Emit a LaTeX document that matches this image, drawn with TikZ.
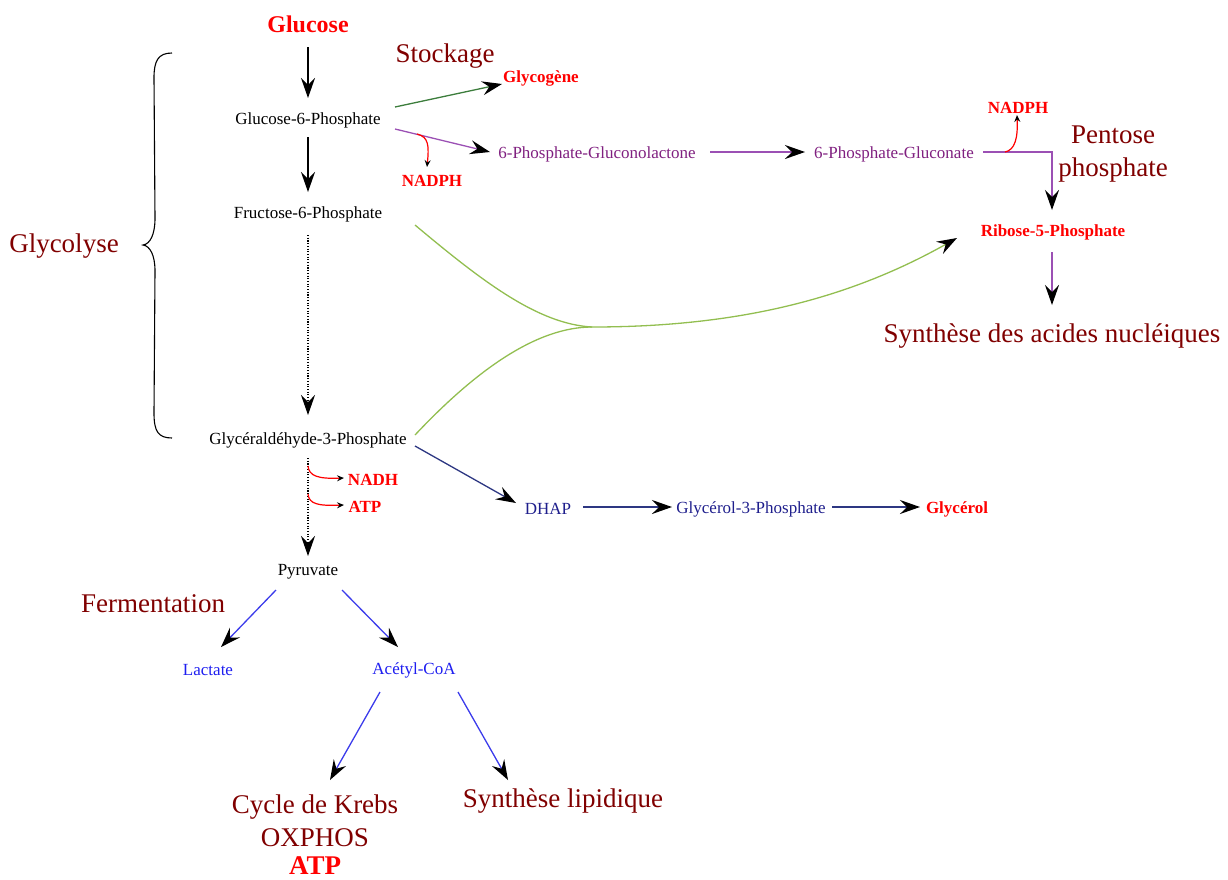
\documentclass[tikz,border=0pt]{standalone}
\usepackage{fontspec}
\setmainfont{Liberation Serif}
\usetikzlibrary{arrows.meta,calc}
\definecolor{mymaroon}{RGB}{128,0,0}
\definecolor{myred}{RGB}{255,0,0}
\definecolor{mypurple}{RGB}{128,32,128}
\definecolor{mypurpleline}{RGB}{155,80,180}
\definecolor{mynavy}{RGB}{30,30,140}
\definecolor{mynavyline}{RGB}{45,55,130}
\definecolor{myblue}{RGB}{30,30,240}
\definecolor{mybluel}{RGB}{60,60,235}
\definecolor{mydgreen}{RGB}{60,125,60}
\definecolor{mylgreen}{RGB}{146,190,80}
\begin{document}
\begin{tikzpicture}[x=1pt,y=-1pt,
  every node/.style={inner sep=0pt,outer sep=0pt},
  smtxt/.style={font=\fontsize{17}{20}\selectfont,yshift=-2pt},
  smbold/.style={font=\fontsize{17}{20}\selectfont\bfseries,text=myred,yshift=-2pt},
  bigtxt/.style={font=\fontsize{27}{33}\selectfont,text=mymaroon,yshift=-3pt},
  bigtip/.style={-{Stealth[length=20pt,width=14pt,inset=7pt,color=black]}},
  smalltip/.style={-{Stealth[length=7pt,width=6pt,inset=2.5pt,color=black]}},
  blkarrow/.style={bigtip,line width=1.4pt,black},
  dotarrow/.style={bigtip,line width=1.1pt,black,dash pattern=on 1.1pt off 1.6pt},
  redcurve/.style={smalltip,line width=1.2pt,myred},
  purparrow/.style={bigtip,line width=1.3pt,mypurpleline},
  bluearrow/.style={bigtip,line width=1.3pt,mybluel},
  navyarrow/.style={bigtip,line width=1.3pt,mynavyline},
  dgreenarrow/.style={bigtip,line width=1.3pt,mydgreen},
  lgreen/.style={line width=1.3pt,mylgreen},
  brace/.style={line width=1.1pt,black}
]
\useasboundingbox (0,0) rectangle (1228,879);

% main chain
\node[font=\fontsize{24}{28}\selectfont\bfseries,text=myred,yshift=-2pt] (Glc) at (308,22) {Glucose};
\node[smtxt] (G6P) at (308,118) {Glucose-6-Phosphate};
\node[smtxt] (F6P) at (308,212) {Fructose-6-Phosphate};
\node[smtxt] (G3P) at (308,438) {Glycéraldéhyde-3-Phosphate};
\node[smtxt] (Pyr) at (308,570) {Pyruvate};
\node[smtxt,text=myblue] (Lac) at (208,668) {Lactate};
\node[smtxt,text=myblue] (Acc) at (414,668) {Acétyl-CoA};
\node[bigtxt] (Krebs) at (315,804) {Cycle de Krebs};
\node[bigtxt] (Oxphos) at (315,835) {OXPHOS};
\node[font=\fontsize{27}{33}\selectfont\bfseries,text=myred] (ATPk) at (315,866) {ATP};
\node[bigtxt] (Lip) at (563,798) {Synthèse lipidique};
\node[bigtxt] (Ferm) at (153,601) {Fermentation};
\node[bigtxt] (Glyco) at (64,243) {Glycolyse};

% storage and pentose phosphate
\node[bigtxt] (Stock) at (445,53) {Stockage};
\node[smbold] (Glgn) at (541,76) {Glycogène};
\node[smbold] (NADPHa) at (432,179) {NADPH};
\node[smtxt,text=mypurple] (PGL) at (597,152) {6-Phosphate-Gluconolactone};
\node[smtxt,text=mypurple] (PG) at (894,152) {6-Phosphate-Gluconate};
\node[smbold] (NADPHb) at (1018,106) {NADPH};
\node[bigtxt,align=center] (Pent) at (1113,151) {Pentose\\phosphate};
\node[smbold] (R5P) at (1053,230) {Ribose-5-Phosphate};
\node[bigtxt] (SAN) at (1052,333) {Synthèse des acides nucléiques};

% glycerol branch
\node[smbold] (NADH) at (373,478) {NADH};
\node[smbold] (ATPa) at (365,505) {ATP};
\node[smtxt,text=mynavy] (DHAP) at (548,507) {DHAP};
\node[smtxt,text=mynavy] (G3Pol) at (751,507) {Glycérol-3-Phosphate};
\node[smbold] (Glyc) at (957,507) {Glycérol};

\coordinate (J) at (592,327);

% brace
\draw[brace] ($(Glyco)+(108,-193)$) .. controls ($(Glyco)+(94,-193)$) and ($(Glyco)+(90,-185)$) .. ($(Glyco)+(90,-168)$)
  -- ($(Glyco)+(91,-28)$) .. controls ($(Glyco)+(91,-11)$) and ($(Glyco)+(86,-2)$) .. ($(Glyco)+(79,-1)$)
  .. controls ($(Glyco)+(86,0)$) and ($(Glyco)+(91,9)$) .. ($(Glyco)+(91,25)$)
  -- ($(Glyco)+(90,167)$) .. controls ($(Glyco)+(90,185)$) and ($(Glyco)+(94,192)$) .. ($(Glyco)+(108,192)$);

% main chain arrows
\draw[blkarrow] ($(Glc)+(0,23)$) -- ($(G6P)+(0,-22)$);
\draw[blkarrow] ($(G6P)+(0,17)$) -- ($(F6P)+(0,-22)$);
\draw[dotarrow] ($(F6P)+(0,21)$) -- ($(G3P)+(0,-25)$);
\draw[dotarrow] ($(G3P)+(0,18)$) -- ($(Pyr)+(0,-16)$);
\draw[redcurve] ($(G3P)+(0,26)$) .. controls ($(G3P)+(1,36)$) and ($(G3P)+(10,39)$) .. ($(NADH)+(-29,-2)$);
\draw[redcurve] ($(G3P)+(0,54)$) .. controls ($(G3P)+(1,64)$) and ($(G3P)+(10,66)$) .. ($(ATPa)+(-21,-2)$);

\draw[bluearrow] ($(Pyr)+(-32,18)$) -- ($(Lac)+(13,-23)$);
\draw[bluearrow] ($(Pyr)+(34,18)$) -- ($(Acc)+(-16,-23)$);
\draw[bluearrow] ($(Acc)+(-34,22)$) -- ($(Krebs)+(15,-27)$);
\draw[bluearrow] ($(Acc)+(44,22)$) -- ($(Lip)+(-55,-21)$);

% storage / pentose phosphate arrows
\draw[dgreenarrow] ($(G6P)+(87,-13)$) -- ($(Glgn)+(-39,6)$);
\draw[purparrow] ($(G6P)+(87,9)$) -- ($(PGL)+(-107,-2)$);
\draw[redcurve] ($(G6P)+(109,14)$) .. controls ($(G6P)+(121,17)$) and ($(G6P)+(121,26)$) .. ($(NADPHa)+(-5,-14)$);
\draw[purparrow] ($(PGL)+(113,-2)$) -- ($(PG)+(-89,-2)$);
\draw[purparrow] ($(PG)+(89,-2)$) -| ($(R5P)+(-1,-22)$);
\draw[redcurve] ($(PG)+(111,-2)$) .. controls ($(PG)+(121,-4)$) and ($(PG)+(124,-16)$) .. ($(NADPHb)+(-1,7)$);
\draw[purparrow] ($(R5P)+(-1,20)$) -- ($(SAN)+(0,-31)$);

% green curves to ribose-5-phosphate
\draw[lgreen] ($(F6P)+(107,11)$) .. controls ($(F6P)+(175,68)$) and ($(F6P)+(230,110)$) .. (J);
\draw[lgreen] ($(G3P)+(107,-5)$) .. controls ($(G3P)+(170,-72)$) and ($(G3P)+(230,-113)$) .. (J);
\draw[lgreen,bigtip] (J) .. controls ($(J)+(150,0)$) and ($(J)+(260,-30)$) .. ($(R5P)+(-96,6)$);

% glycerol branch arrows
\draw[navyarrow] ($(G3P)+(107,6)$) -- ($(DHAP)+(-32,-6)$);
\draw[navyarrow] ($(DHAP)+(35,-2)$) -- ($(G3Pol)+(-79,-2)$);
\draw[navyarrow] ($(G3Pol)+(81,-2)$) -- ($(Glyc)+(-37,-2)$);
\end{tikzpicture}
\end{document}
